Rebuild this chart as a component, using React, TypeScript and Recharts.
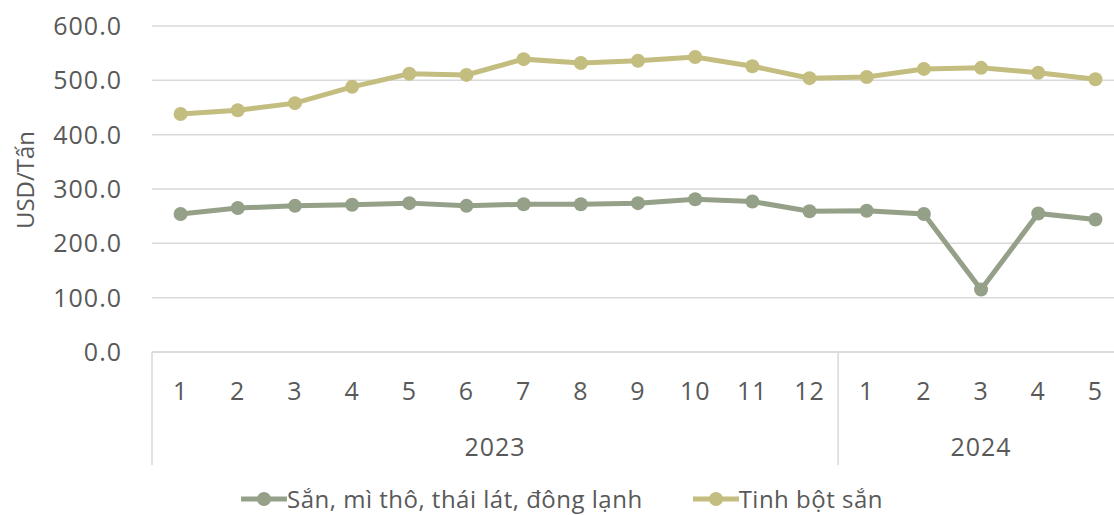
import { LineChart, Line, XAxis, YAxis, CartesianGrid, Legend } from 'recharts';

const months = ['1', '2', '3', '4', '5', '6', '7', '8', '9', '10', '11', '12', '1', '2', '3', '4', '5'];
const years = ['2023', '2023', '2023', '2023', '2023', '2023', '2023', '2023', '2023', '2023', '2023', '2023', '2024', '2024', '2024', '2024', '2024'];
const sanMiTho = [254, 265, 269, 271, 274, 269, 272, 272, 274, 281, 277, 259, 260, 254, 115, 255, 244];
const tinhBotSan = [438, 445, 458, 488, 512, 510, 539, 532, 536, 543, 526, 504, 506, 521, 523, 514, 502];
const yTicks = [0, 100, 200, 300, 400, 500, 600];

const SERIES = [
    { key: 'san', name: 'Sắn, mì thô, thái lát, đông lạnh', color: '#94A088' },
    { key: 'tinhbot', name: 'Tinh bột sắn', color: '#C4BD80' },
];

const FONT = '"Open Sans", "Noto Sans", sans-serif';
const TEXT = '#595959';
const GRID = '#d9d9d9';
const MONTH_AXIS_H = 70;

const data = months.map((m, i) => ({
    id: `${years[i]}-${m}`,
    month: m,
    year: years[i],
    pos: i + 0.5,
    san: sanMiTho[i],
    tinhbot: tinhBotSan[i],
}));

// year groups: boundaries and label positions on a 0..n scale
const boundaries: number[] = [0];
const yearMid: Record<number, string> = {};
let start = 0;
years.forEach((y, i) => {
    if (i === years.length - 1 || years[i + 1] !== y) {
        boundaries.push(i + 1);
        yearMid[(start + i + 1) / 2] = y;
        start = i + 1;
    }
});
const groupTicks = [...boundaries, ...Object.keys(yearMid).map(Number)].sort((a, b) => a - b);

const MonthTick = ({ x, y, payload }: any) => (
    <text x={x} y={y + 38} textAnchor="middle" dominantBaseline="central" fill={TEXT} fontSize={25} letterSpacing={1} fontFamily={FONT}>
        {String(payload.value).split('-')[1]}
    </text>
);

const GroupTick = ({ x, y, payload }: any) => {
    const v = payload.value;
    if (boundaries.includes(v)) {
        return <line x1={x} x2={x} y1={y - MONTH_AXIS_H} y2={y + 43} stroke={GRID} strokeWidth={1.5} />;
    }
    return (
        <text x={x} y={y + 24} textAnchor="middle" dominantBaseline="central" fill={TEXT} fontSize={25} letterSpacing={1} fontFamily={FONT}>
            {yearMid[v]}
        </text>
    );
};

const LegendContent = () => (
    <div style={{ display: 'flex', justifyContent: 'center', gap: 50, fontFamily: FONT, fontSize: 24, letterSpacing: 0.5, lineHeight: '30px', color: TEXT, paddingTop: 9, marginLeft: 0 }}>
        {SERIES.map(s => (
            <div key={s.key} style={{ display: 'flex', alignItems: 'center' }}>
                <svg width={46} height={20}>
                    <line x1={0} x2={46} y1={10} y2={10} stroke={s.color} strokeWidth={5} />
                    <circle cx={23} cy={10} r={7} fill={s.color} />
                </svg>
                <span>{s.name}</span>
            </div>
        ))}
    </div>
);

export default function App() {
    return (
        <div style={{ position: 'absolute', left: 0, top: 0, width: 1114, height: 515, overflow: 'hidden', background: '#fff' }}>
            <LineChart width={1130} height={515} data={data} margin={{ top: 26, right: 6, left: 0, bottom: 0 }}>
                <CartesianGrid horizontal vertical={false} stroke={GRID} strokeWidth={1.5} />
                <XAxis dataKey="id" scale="band" height={MONTH_AXIS_H} tickLine={false} tickSize={0} tickMargin={0}
                    axisLine={{ stroke: GRID, strokeWidth: 1.5 }} tick={<MonthTick />} interval={0} />
                <XAxis xAxisId="g" dataKey="pos" type="number" domain={[0, months.length]} ticks={groupTicks}
                    height={53} tickLine={false} tickSize={0} tickMargin={0} axisLine={false}
                    tick={<GroupTick />} interval={0} allowDataOverflow />
                <YAxis domain={[0, 600]} ticks={yTicks} width={152} tickLine={false} axisLine={false} tickMargin={24}
                    tickFormatter={(v: number) => v.toFixed(1)}
                    tick={{ fill: TEXT, fontSize: 25, fontFamily: FONT, letterSpacing: 1 }}
                    label={{ value: 'USD/Tấn', angle: -90, position: 'center', dx: -51, dy: -9, fill: TEXT, fontSize: 24, fontFamily: FONT }} />
                <Legend verticalAlign="bottom" height={40} content={<LegendContent />} />
                {SERIES.map(s => (
                    <Line key={s.key} type="linear" dataKey={s.key} name={s.name} stroke={s.color} strokeWidth={5}
                        dot={{ r: 7, fill: s.color, stroke: s.color, strokeWidth: 0 }} activeDot={false} isAnimationActive={false} />
                ))}
            </LineChart>
        </div>
    );
}
